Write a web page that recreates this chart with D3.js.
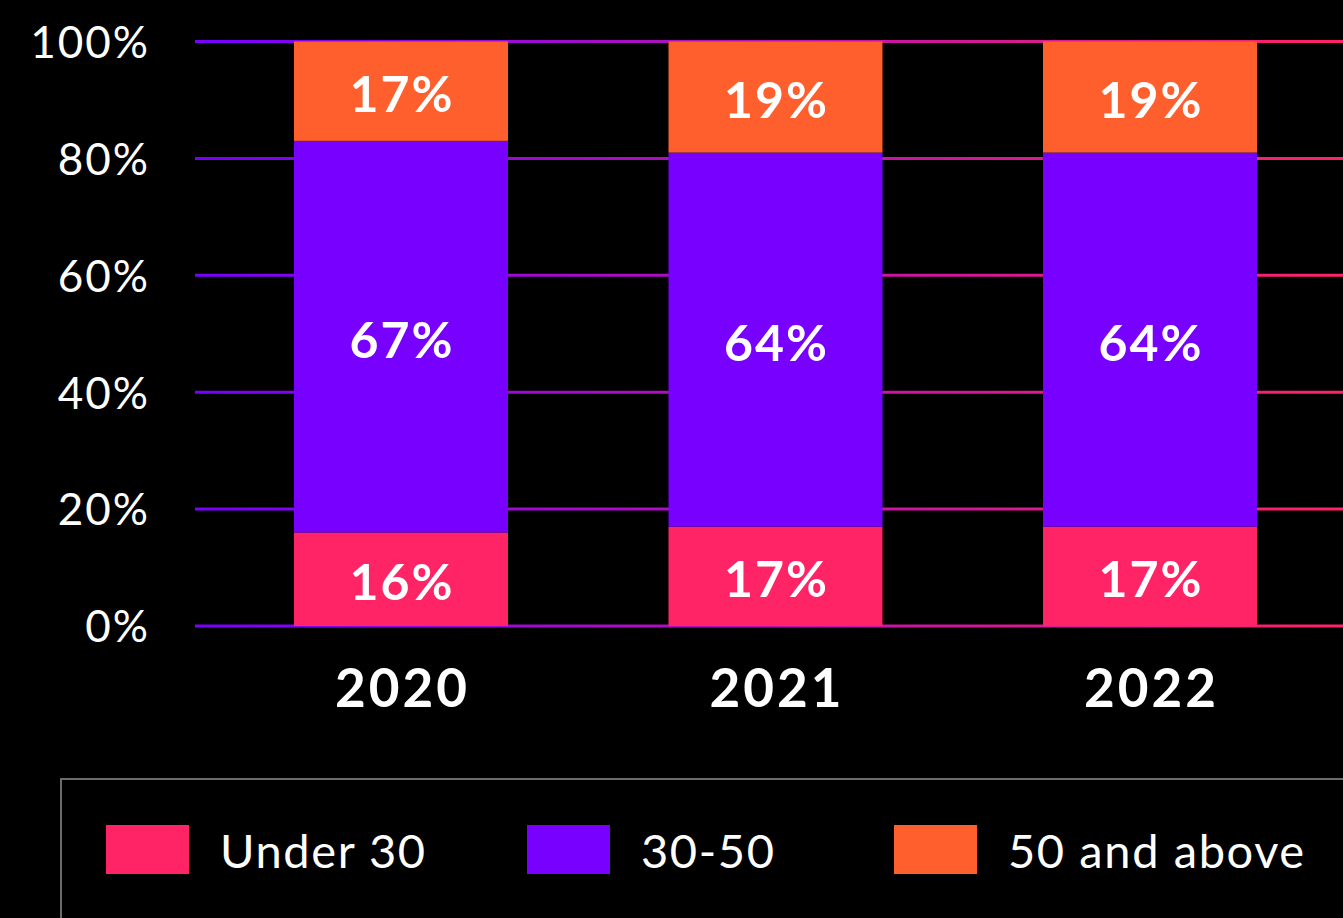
<!DOCTYPE html>
<html>
<head>
<meta charset="utf-8">
<script src="https://cdn.jsdelivr.net/npm/d3@7"></script>
<style>
  html, body { margin: 0; padding: 0; background: #000; }
  svg { display: block; }
</style>
</head>
<body>
<svg id="chart" width="1343" height="918"></svg>
<script>
const years = ["2020", "2021", "2022"];
const under30 = [16, 17, 17];
const age30to50 = [67, 64, 64];
const over50 = [17, 19, 19];
const seriesNames = ["Under 30", "30-50", "50 and above"];
const seriesColors = ["#FF2466", "#7700FF", "#FF5F2C"];
const yTicks = [0, 20, 40, 60, 80, 100];

const rows = years.map((y, i) => ({ year: y, s0: under30[i], s1: age30to50[i], s2: over50[i] }));
const keys = ["s0", "s1", "s2"];

const svg = d3.select("#chart");
const W = 1343, H = 918;
svg.append("rect").attr("width", W).attr("height", H).attr("fill", "#000");

const FONT = "Lato, 'Noto Sans', sans-serif";

const y = d3.scaleLinear().domain([0, 100]).range([626, 41.5]);
const x = d3.scaleBand().domain(years).range([213.75, 1337.25]).paddingInner(0.4286).paddingOuter(0.2143);

// gradient for gridlines
const defs = svg.append("defs");
const grad = defs.append("linearGradient").attr("id", "gridGrad")
  .attr("gradientUnits", "userSpaceOnUse").attr("x1", 195).attr("x2", 1343).attr("y1", 0).attr("y2", 0);
grad.append("stop").attr("offset", "0%").attr("stop-color", "#7700FF");
grad.append("stop").attr("offset", "100%").attr("stop-color", "#FF2466");

// gridlines
svg.append("g").selectAll("line").data(yTicks).join("line")
  .attr("x1", 195).attr("x2", 1343)
  .attr("y1", d => y(d)).attr("y2", d => y(d))
  .attr("stroke", "url(#gridGrad)").attr("stroke-width", 3);

// y axis labels
const yAxis = d3.axisLeft(y).tickValues(yTicks).tickFormat(d => d + "%").tickSize(0).tickPadding(0);
const ya = svg.append("g").attr("transform", "translate(150,0)").call(yAxis);
ya.select(".domain").remove();
ya.selectAll("text").attr("fill", "#fff").style("font-family", FONT).style("font-size", "44px")
  .style("letter-spacing", "2px").attr("dy", "0.36em");

// stacked bars
const stacked = d3.stack().keys(keys)(rows);
const layers = svg.append("g").selectAll("g").data(stacked).join("g")
  .attr("fill", (d, i) => seriesColors[i]);
layers.selectAll("rect").data(d => d).join("rect")
  .attr("x", d => x(d.data.year))
  .attr("width", x.bandwidth())
  .attr("y", d => y(d[1]))
  .attr("height", d => y(d[0]) - y(d[1]));

// value labels
const lab = svg.append("g");
stacked.forEach((layer, li) => {
  lab.selectAll(null).data(layer).join("text")
    .attr("x", d => x(d.data.year) + x.bandwidth() / 2 + 1)
    .attr("y", d => (y(d[0]) + y(d[1])) / 2 + 2)
    .attr("text-anchor", "middle")
    .attr("dominant-baseline", "central")
    .attr("fill", "#fff")
    .style("font-family", FONT).style("font-weight", "700").style("font-size", "50px")
    .style("letter-spacing", "2px")
    .text(d => (d[1] - d[0]) + "%");
});

// x axis labels
const xAxis = d3.axisBottom(x).tickSize(0).tickPadding(0);
const xa = svg.append("g").attr("transform", "translate(0,688)").call(xAxis);
xa.select(".domain").remove();
xa.selectAll("text").attr("fill", "#fff").attr("dy", "0.36em").attr("dx", "1.5")
  .style("font-family", FONT).style("font-weight", "700").style("font-size", "53px")
  .style("letter-spacing", "3px");

// legend
svg.append("rect").attr("x", 61).attr("y", 779).attr("width", 1400).attr("height", 300)
  .attr("fill", "none").attr("stroke", "#6b6b6b").attr("stroke-width", 2);
const legX = [106, 527, 894];
const leg = svg.append("g").selectAll("g").data(seriesNames).join("g")
  .attr("transform", (d, i) => `translate(${legX[i]},825)`);
leg.append("rect").attr("width", 83).attr("height", 49).attr("fill", (d, i) => seriesColors[i]);
leg.append("text").attr("x", 114).attr("y", 25).attr("dominant-baseline", "central")
  .attr("fill", "#fff").style("font-family", FONT).style("font-size", "47px")
  .style("letter-spacing", "1.6px")
  .text(d => d);
</script>
</body>
</html>
